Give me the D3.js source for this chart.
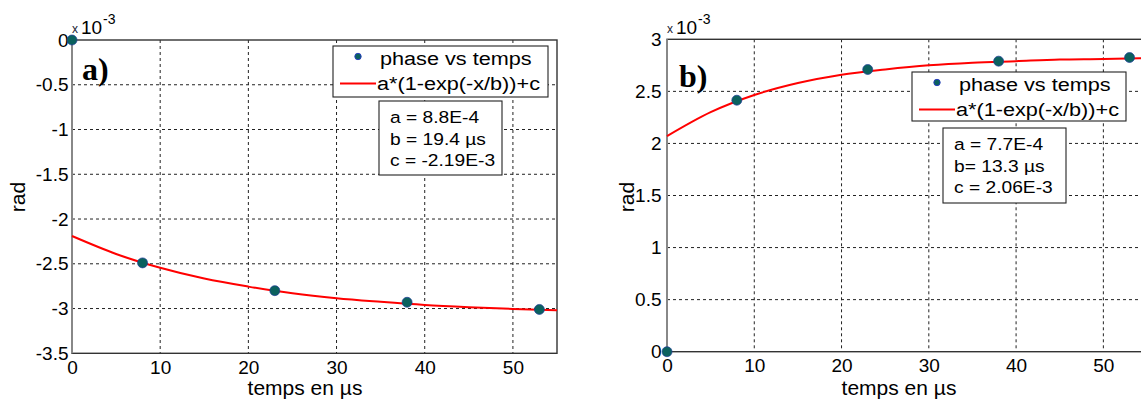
<!DOCTYPE html>
<html>
<head>
<meta charset="utf-8">
<script src="https://cdn.jsdelivr.net/npm/d3@7"></script>
<style>
  html, body { margin: 0; padding: 0; background: #fff; }
  svg { display: block; }
  text { font-family: "Liberation Sans", Arial, sans-serif; fill: #000; }
</style>
</head>
<body>
<svg id="chart" width="1141" height="403"></svg>
<script>
// ---------------- data ----------------
const xTicks = [0, 10, 20, 30, 40, 50];
const xTickLabels = ["0", "10", "20", "30", "40", "50"];

const yTicksA = [0, -0.5, -1, -1.5, -2, -2.5, -3, -3.5];
const yTickLabelsA = ["0", "-0.5", "-1", "-1.5", "-2", "-2.5", "-3", "-3.5"];
const yTicksB = [0, 0.5, 1, 1.5, 2, 2.5, 3];
const yTickLabelsB = ["0", "0.5", "1", "1.5", "2", "2.5", "3"];

// measured points (units of 1e-3 rad)
const timeA = [0, 8, 23, 38, 53];
const phaseA = [0, -2.49, -2.80, -2.93, -3.01];
const timeB = [0, 8, 23, 38, 53];
const phaseB = [0, 2.415, 2.71, 2.79, 2.825];

// fitted curves (units of 1e-3 rad)
const fitTime = [0, 5, 10, 15, 20, 25, 30, 35, 40, 45, 50, 55];
const fitA = [-2.19, -2.39, -2.545, -2.665, -2.755, -2.83, -2.885, -2.925, -2.96, -2.985, -3.005, -3.02];
const fitB = [2.07, 2.30, 2.465, 2.58, 2.66, 2.71, 2.75, 2.775, 2.79, 2.805, 2.81, 2.82];

const legendLabels = ["phase vs temps", "a*(1-exp(-x/b))+c"];
const paramsA = ["a = 8.8E-4", "b = 19.4 \u00b5s", "c = -2.19E-3"];
const paramsB = ["a = 7.7E-4", "b= 13.3 \u00b5s", "c = 2.06E-3"];
const panelLabels = ["a)", "b)"];
const xLabel = "temps en \u00b5s";
const yLabel = "rad";
const exponentBase = "10";
const exponentPow = "-3";

// ---------------- layout ----------------
const svg = d3.select("#chart");

const panels = [
  { x0: 72, x1: 557, y0: 40, y1: 353.3, yDomain: [-3.5, 0], yTicks: yTicksA, yLabels: yTickLabelsA,
    time: timeA, phase: phaseA, fit: fitA, params: paramsA, label: panelLabels[0],
    labelPos: [82, 80], yLabelPos: [18, 197], xLabelX: 305,
    legend: { x: 333, y: 46, w: 215, h: 51 }, box: { x: 379, y: 101, w: 123, h: 74 } },
  { x0: 667, x1: 1147, y0: 39.3, y1: 351.7, yDomain: [0, 3], yTicks: yTicksB, yLabels: yTickLabelsB,
    time: timeB, phase: phaseB, fit: fitB, params: paramsB, label: panelLabels[1],
    labelPos: [679, 87], yLabelPos: [627, 197], xLabelX: 899,
    legend: { x: 912, y: 72, w: 214, h: 49 }, box: { x: 943, y: 128, w: 123, h: 75 } }
];

function stretchedText(g, x, y, str, size, sx, anchor) {
  return g.append("g").attr("transform", `translate(${x},${y}) scale(${sx},1)`)
    .append("text").attr("x", 0).attr("y", 0)
    .style("font-size", size + "px").attr("text-anchor", anchor || "start").text(str);
}

panels.forEach(p => {
  const g = svg.append("g");
  const x = d3.scaleLinear().domain([0, 55]).range([p.x0, p.x1]);
  const y = d3.scaleLinear().domain(p.yDomain).range([p.y1, p.y0]);

  // grid
  const grid = g.append("g").attr("stroke", "#222").attr("stroke-width", 1)
    .attr("stroke-dasharray", "3,3").attr("fill", "none");
  xTicks.filter(t => t > 0 && t < 55).forEach(t => {
    grid.append("line").attr("x1", x(t)).attr("x2", x(t)).attr("y1", p.y0).attr("y2", p.y1);
  });
  p.yTicks.filter(t => t > p.yDomain[0] && t < p.yDomain[1]).forEach(t => {
    grid.append("line").attr("x1", p.x0).attr("x2", p.x1).attr("y1", y(t)).attr("y2", y(t));
  });

  // frame
  g.append("rect").attr("x", p.x0).attr("y", p.y0)
    .attr("width", p.x1 - p.x0).attr("height", p.y1 - p.y0)
    .attr("fill", "none").attr("stroke", "#333").attr("stroke-width", 1.4);
  g.append("line").attr("x1", p.x0).attr("x2", p.x0).attr("y1", p.y0).attr("y2", p.y1)
    .attr("stroke", "#888").attr("stroke-width", 2);

  // x axis tick labels
  const xAxis = d3.axisBottom(x).tickValues(xTicks)
    .tickFormat((d, i) => xTickLabels[i]).tickSize(0).tickPadding(7);
  const xa = g.append("g").attr("transform", `translate(0,${p.y1})`).call(xAxis);
  xa.select(".domain").remove();
  xa.selectAll("text").style("font-size", "19px").style("fill", "#000")
    .style("font-family", "'Liberation Sans', Arial, sans-serif");

  // y axis tick labels
  const yAxis = d3.axisLeft(y).tickValues(p.yTicks)
    .tickFormat((d, i) => p.yLabels[i]).tickSize(0).tickPadding(p.x0 === 72 ? 3.5 : 5.5);
  const ya = g.append("g").attr("transform", `translate(${p.x0},0)`).call(yAxis);
  ya.select(".domain").remove();
  ya.selectAll("text").style("font-size", "19px").style("fill", "#000")
    .style("font-family", "'Liberation Sans', Arial, sans-serif");

  // exponent "x 10^-3"
  g.append("text").attr("x", p.x0 + 3).attr("y", 33).style("font-size", "12px")
    .attr("text-anchor", "middle").style("fill", "#223").text("x");
  g.append("text").attr("x", p.x0 + 9).attr("y", 33.5).style("font-size", "19px").text(exponentBase);
  g.append("text").attr("x", p.x0 + 31).attr("y", 23.5).style("font-size", "14px").text(exponentPow);

  // axis labels
  g.append("text").attr("x", p.xLabelX).attr("y", 395).style("font-size", "21px")
    .attr("text-anchor", "middle").text(xLabel);
  g.append("text").attr("transform", `translate(${p.yLabelPos[0] + 7},${p.yLabelPos[1]}) rotate(-90)`)
    .style("font-size", "21px").attr("text-anchor", "middle").text(yLabel);

  // panel label
  g.append("text").attr("x", p.labelPos[0]).attr("y", p.labelPos[1])
    .style("font-family", "'Liberation Serif', 'DejaVu Serif', serif")
    .style("font-weight", "bold").style("font-size", "32px").text(p.label);

  // fitted curve
  const line = d3.line().x((d, i) => x(fitTime[i])).y(d => y(d)).curve(d3.curveMonotoneX);
  g.append("path").datum(p.fit).attr("d", line)
    .attr("fill", "none").attr("stroke", "#ff0000").attr("stroke-width", 2);

  // data points
  g.selectAll("circle.pt").data(p.phase).enter().append("circle")
    .attr("class", "pt")
    .attr("cx", (d, i) => x(p.time[i])).attr("cy", d => y(d)).attr("r", 5)
    .attr("fill", "#0b615e").attr("stroke", "#1f3c9a").attr("stroke-width", 0.7);

  // legend
  const L = p.legend;
  const lg = g.append("g");
  lg.append("rect").attr("x", L.x).attr("y", L.y).attr("width", L.w).attr("height", L.h)
    .attr("fill", "#fff").attr("stroke", "#222").attr("stroke-width", 1.1);
  lg.append("circle").attr("cx", L.x + 25).attr("cy", L.y + 10.5).attr("r", 3.2)
    .attr("fill", "#0b615e").attr("stroke", "#2a40c0").attr("stroke-width", 1);
  lg.append("line").attr("x1", L.x + 7).attr("x2", L.x + 43).attr("y1", L.y + 37.5).attr("y2", L.y + 37.5)
    .attr("stroke", "#ff0000").attr("stroke-width", 2);
  stretchedText(lg, L.x + 47, L.y + 19, legendLabels[0], 19, 1.14);
  stretchedText(lg, L.x + 44, L.y + 44, legendLabels[1], 19, 1.14);

  // parameter box
  const B = p.box;
  const bg = g.append("g");
  bg.append("rect").attr("x", B.x).attr("y", B.y).attr("width", B.w).attr("height", B.h)
    .attr("fill", "#fff").attr("stroke", "#222").attr("stroke-width", 1.1);
  p.params.forEach((s, i) => {
    stretchedText(bg, B.x + 11, B.y + 22 + i * 21.5, s, 17, 1.13);
  });
});
</script>
</body>
</html>
